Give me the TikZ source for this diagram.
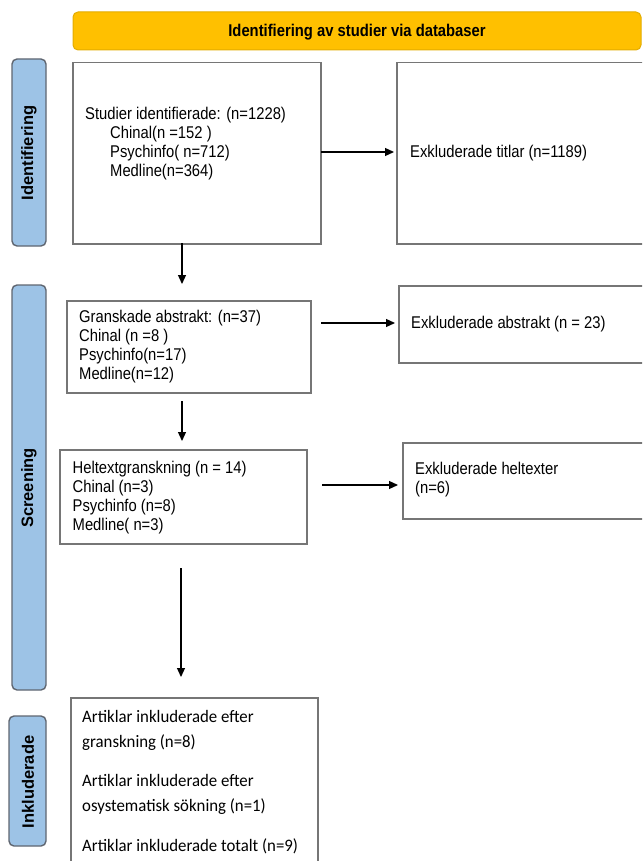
\documentclass[tikz,border=0pt]{standalone}
\usepackage{fontspec}
\setmainfont{Liberation Sans}
\newfontfamily\arialc[FakeStretch=0.87]{Liberation Sans}
\newfontfamily\calc[FakeStretch=0.96]{Carlito}
\usetikzlibrary{arrows.meta}
\definecolor{bannerfill}{HTML}{FFC000}
\definecolor{bannerline}{HTML}{E3AC00}
\definecolor{sidefill}{HTML}{9DC3E6}
\definecolor{sideline}{HTML}{5F6670}
\definecolor{boxline}{HTML}{767676}
\tikzset{
  x=1pt, y=-1pt,
  boxrect/.style={draw=boxline, line width=1.5pt},
  sidelabel/.style={draw=sideline, fill=sidefill, line width=1.4pt, rounded corners=5pt},
  sidetext/.style={rotate=90, font=\fontsize{16.5}{19}\selectfont\bfseries, inner sep=0pt},
  boxtext/.style={align=left, anchor=west, inner sep=0pt, font=\arialc\fontsize{17}{19}\selectfont},
  inctext/.style={align=left, anchor=west, inner sep=0pt, font=\calc\fontsize{17.5}{25}\selectfont},
  flow/.style={draw=black, line width=1.2pt, -{Triangle[length=9pt,width=8pt]}}
}
\begin{document}
\begin{tikzpicture}
\useasboundingbox (0,0) rectangle (642,861);
\clip (0,0) rectangle (642,861);
% banner
\draw[draw=bannerline, fill=bannerfill, line width=1pt, rounded corners=5pt] (73,12) rectangle (641,50);
\node[inner sep=0pt, font=\arialc\fontsize{17}{19}\selectfont\bfseries] (banner) at (357,32) {Identifiering av studier via databaser};
% side labels
\draw[sidelabel] (12,59) rectangle (46,246);
\node[sidetext] (lid) at (29,153) {Identifiering};
\draw[sidelabel] (12,285) rectangle (46,690);
\node[sidetext] (lsc) at (29,488) {Screening};
\draw[sidelabel] (9,716) rectangle (46,846);
\node[sidetext] (lin) at (28,782) {Inkluderade};
% boxes
\node[boxrect, anchor=north west, minimum width=248pt, minimum height=181pt] (b1) at (72,62) {};
\node[boxrect, anchor=north west, minimum width=260pt, minimum height=181pt] (e1) at (396,62) {};
\node[boxrect, anchor=north west, minimum width=244pt, minimum height=92pt] (b2) at (66,300) {};
\node[boxrect, anchor=north west, minimum width=260pt, minimum height=77pt] (e2) at (398,285) {};
\node[boxrect, anchor=north west, minimum width=247pt, minimum height=94pt] (b3) at (59,449) {};
\node[boxrect, anchor=north west, minimum width=260pt, minimum height=76pt] (e3) at (402,442) {};
\node[boxrect, anchor=north west, minimum width=247pt, minimum height=175pt] (b4) at (70,697) {};
% texts
\node[boxtext] (t1a) at (85,115) {Studier identifierade: (n=1228)};
\node[boxtext] (t1b) at (110,153.5) {Chinal(n =152 )\\Psychinfo( n=712)\\Medline(n=364)};
\node[boxtext] (te1) at (410,153) {Exkluderade titlar (n=1189)};
\node[boxtext] (t2) at (79,346.5) {Granskade abstrakt: (n=37)\\Chinal (n =8 )\\Psychinfo(n=17)\\Medline(n=12)};
\node[boxtext] (te2) at (411,324) {Exkluderade abstrakt (n = 23)};
\node[boxtext] (t3) at (72.5,497.5) {Heltextgranskning (n = 14)\\Chinal (n=3)\\Psychinfo (n=8)\\Medline( n=3)};
\node[boxtext] (te3) at (415,480) {Exkluderade heltexter\\(n=6)};
\node[inctext] (t4a) at (82,730.5) {Artiklar inkluderade efter\\granskning (n=8)};
\node[inctext] (t4b) at (82,794.5) {Artiklar inkluderade efter\\osystematisk sökning (n=1)};
\node[inctext] (t4c) at (82,846) {Artiklar inkluderade totalt (n=9)};
% connectors
\coordinate (a1s) at (321,152); \coordinate (a1e) at (394,152);
\draw[flow] (a1s) -- (a1e);
\coordinate (d1s) at (182,243); \coordinate (d1e) at (182,284);
\draw[flow] (d1s) -- (d1e);
\coordinate (a2s) at (321,323); \coordinate (a2e) at (395,323);
\draw[flow] (a2s) -- (a2e);
\coordinate (d2s) at (182,401); \coordinate (d2e) at (182,441);
\draw[flow] (d2s) -- (d2e);
\coordinate (a3s) at (322,485); \coordinate (a3e) at (398,485);
\draw[flow] (a3s) -- (a3e);
\coordinate (d3s) at (181,568); \coordinate (d3e) at (181,677);
\draw[flow] (d3s) -- (d3e);
\end{tikzpicture}
\end{document}
